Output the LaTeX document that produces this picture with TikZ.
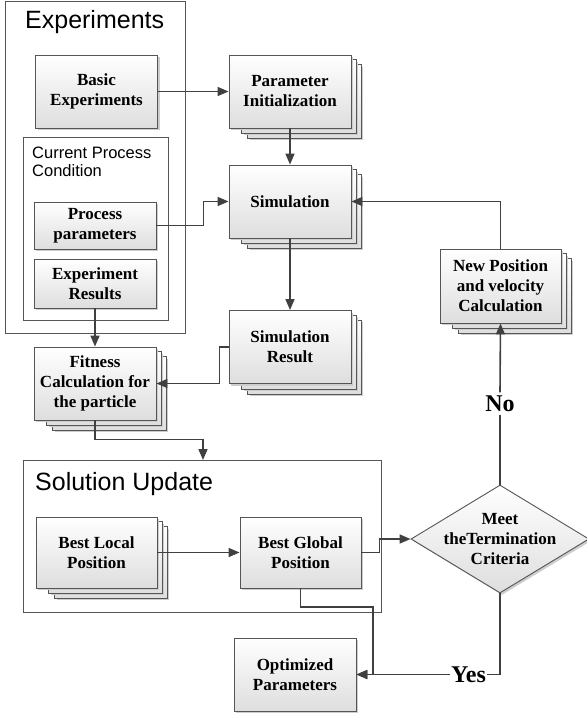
\documentclass[tikz,border=0pt]{standalone}
\usepackage{fontspec}
\setmainfont{Liberation Serif}
\newfontfamily\arialf{Liberation Sans}
\usetikzlibrary{arrows.meta,shapes.geometric,shadows,backgrounds,calc}
\definecolor{lnc}{RGB}{64,64,64}
\definecolor{bdc}{RGB}{85,85,85}
\definecolor{btm}{RGB}{222,222,222}
\definecolor{shc}{RGB}{205,205,205}
\tikzset{
  boxbase/.style={draw=bdc, line width=0.9pt, top color=white, bottom color=btm,
    drop shadow={shadow xshift=2pt, shadow yshift=-2pt, fill=shc, opacity=1}},
  boxfont/.style={font=\fontsize{17}{20}\selectfont\bfseries, align=center},
  box/.style={boxbase, boxfont, inner sep=0pt, minimum width=122pt, minimum height=73pt},
  layerbox/.style={boxbase},
  cont/.style={draw=bdc, line width=0.9pt, inner sep=0pt},
  ttl/.style={font=\arialf\fontsize{25}{28}\selectfont, inner sep=0pt, anchor=base west},
  lbl/.style={font=\fontsize{24}{26}\selectfont\bfseries, inner sep=3pt},
  arr/.style={draw=lnc, line width=1.6pt, -{Triangle[length=11pt,width=9pt]}},
  ln/.style={draw=lnc, line width=1.6pt},
}
\newcommand{\stackbg}[1]{%
  \begin{scope}[on background layer]
    \path[layerbox] ($(#1.north west)+(19,10)$) rectangle ($(#1.south east)+(10,10)$);
    \path[layerbox] ($(#1.north west)+(13,5)$) rectangle ($(#1.south east)+(5,5)$);
  \end{scope}}
\begin{document}
\begin{tikzpicture}[x=1pt,y=-1pt]
\useasboundingbox (0,0) rectangle (587,716);
\begin{scope}[on background layer]
  \fill[white] (0,0) rectangle (587,716);
\end{scope}

% containers
\node[cont, minimum width=180pt, minimum height=332pt] (expbox) at (95,167) {};
\node[ttl] (exptitle) at (25,28) {Experiments};
\node[cont, minimum width=145pt, minimum height=183pt] (curbox) at (95.5,228.5) {};
\node[font=\arialf\fontsize{16.5}{18}\selectfont, align=left, anchor=north west, inner sep=0pt] (curtitle) at (32,147) {Current Process\\Condition};
\node[cont, minimum width=358pt, minimum height=152pt] (solbox) at (202,536) {};
\node[ttl] (soltitle) at (35,490) {Solution Update};

% boxes
\node[box] (basic) at (96.5,91.5) {Basic\\Experiments};
\node[box, minimum height=47pt] (proc) at (95,225.5) {Process\\parameters};
\node[box, minimum height=49pt] (expres) at (95,283.5) {Experiment\\Results};

\node[box] (param) at (290,91.5) {Parameter\\Initialization};
\stackbg{param}
\node[box] (sim) at (290,201.5) {Simulation};
\stackbg{sim}
\node[box] (simres) at (290,347) {Simulation\\Result};
\stackbg{simres}
\node[box, minimum width=121pt, minimum height=74pt] (newpos) at (500.5,286) {New Position\\and velocity\\Calculation};
\stackbg{newpos}
\node[box] (fit) at (95,383.5) {Fitness\\Calculation for\\the particle};
\stackbg{fit}
\node[box, minimum width=121pt, minimum height=71pt] (bloc) at (96.5,552.5) {Best Local\\Position};
\stackbg{bloc}
\node[box, minimum width=121pt, minimum height=71pt] (bglob) at (300.5,552.5) {Best Global\\Position};
\node[box, minimum width=122pt] (opt) at (295,674.5) {Optimized\\Parameters};
\node[boxbase, shape=diamond, inner sep=0pt, minimum width=178pt, minimum height=108pt] (dec) at (500,539) {};
\node[boxfont, inner sep=0pt] (dectext) at (dec.center) {Meet\\theTermination\\Criteria};

% labels
\node[lbl] (no) at (500,403.5) {No};
\node[lbl, inner sep=1pt] (yes) at (468.5,674.5) {Yes};

% connectors
\draw[arr] (basic.east) -- (param.west);
\draw[arr] (param) -- (sim);
\draw[arr] (proc.east) -- ++(47,0) |- (sim.west);
\draw[arr] (sim) -- (simres);
\draw[arr] (expres) -- (fit);
\draw[arr] (simres.west) -- ++(-9,0) |- (fit.east);
\coordinate (solin) at (203,460);
\draw[arr] (fit.south) -- ++(0,19) -| (solin);
\draw[arr] (bloc) -- (bglob);
\draw[arr] (bglob.east) -- ++(18,0) |- (dec.west);
\coordinate (j1) at (373,607);
\draw[arr] (bglob.south) |- (j1) |- (opt.east);
\draw[ln] (dec.south) |- (yes.east);
\draw[arr] (yes.west) -- (opt.east);
\draw[ln] (dec.north) -- (no.south);
\draw[arr] (no.north) -- (newpos.south);
\draw[arr] (newpos.north) |- (sim.east);
\end{tikzpicture}
\end{document}
